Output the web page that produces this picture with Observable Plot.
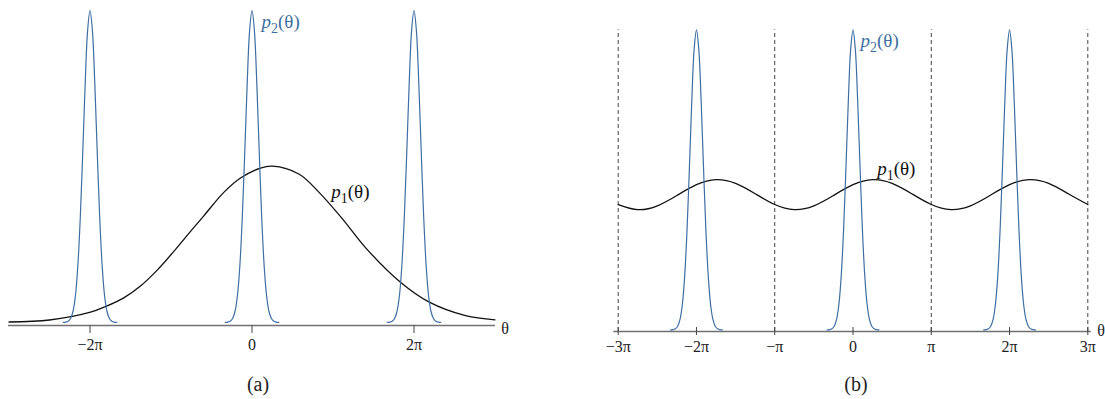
<!DOCTYPE html>
<html><head><meta charset="utf-8">
<script src="https://cdn.jsdelivr.net/npm/d3@7"></script>
<script src="https://cdn.jsdelivr.net/npm/@observablehq/plot@0.6"></script>
<style>
body{margin:0;background:#fff;}
#wrap{position:relative;width:1105px;height:399px;font-family:"Liberation Serif","DejaVu Serif",serif;overflow:hidden;}
.panel{position:absolute;top:0;}
.panel text{font-family:"Liberation Serif","DejaVu Serif",serif;}
.cap{position:absolute;font-size:20px;line-height:20px;color:#222;transform:translateX(-50%);top:374px;}
</style></head><body>
<div id="wrap"></div>
<script>
// ---- data (θ in units of π) ----
const peakCenters = [-2, 0, 2];
const peakOffsets = [-0.33,-0.30,-0.27,-0.24,-0.21,-0.18,-0.15,-0.12,-0.09,-0.06,-0.03,0,0.03,0.06,0.09,0.12,0.15,0.18,0.21,0.24,0.27,0.30,0.33];
const peakValues  = [0.0003,0.0011,0.0040,0.0127,0.0353,0.0858,0.182,0.336,0.541,0.761,0.934,1,0.934,0.761,0.541,0.336,0.182,0.0858,0.0353,0.0127,0.0040,0.0011,0.0003];

const p1aTheta  = [-3.0,-2.5,-1.994,-1.809,-1.583,-1.377,-1.170,-0.965,-0.759,-0.595,-0.348,-0.142,0.105,0.253,0.578,0.825,1.114,1.401,1.833,2.183,2.636,3.0];
const p1aValues = [0.0016,0.008,0.033,0.051,0.079,0.117,0.168,0.228,0.292,0.342,0.417,0.463,0.495,0.501,0.476,0.418,0.333,0.240,0.129,0.066,0.022,0.0087];

const p1bTheta  = [-3,-2.75,-2.5,-2.25,-2,-1.75,-1.5,-1.25,-1,-0.75,-0.5,-0.25,0,0.25,0.5,0.75,1,1.25,1.5,1.75,2,2.25,2.5,2.75,3];
const p1bValues = [0.418,0.401,0.4135,0.448,0.484,0.501,0.4885,0.454,0.418,0.401,0.4135,0.448,0.484,0.501,0.4885,0.454,0.418,0.401,0.4135,0.448,0.484,0.501,0.4885,0.454,0.418];

const ticksA = [-2, 0, 2];
const tickLabelsA = ["−2π", "0", "2π"];
const ticksB = [-3, -2, -1, 0, 1, 2, 3];
const tickLabelsB = ["−3π", "−2π", "−π", "0", "π", "2π", "3π"];
const boundariesB = [-3, -1, 1, 3];

// ---- build tables ----
const p2 = peakCenters.flatMap(c => peakOffsets.map((o, i) => ({t: c + o, v: peakValues[i], c})));
const p1a = p1aTheta.map((t, i) => ({t, v: p1aValues[i]}));
const p1b = p1bTheta.map((t, i) => ({t, v: p1bValues[i]}));

const blue = "#3e6fa3";
const font = "'Liberation Serif', 'DejaVu Serif', serif";

function subscriptify(svg) {
  d3.select(svg).selectAll("text").each(function () {
    const m = /^p(\d)\(θ\)$/.exec(this.textContent);
    if (!m) return;
    const el = d3.select(this);
    el.text(null);
    el.append("tspan").attr("font-style", "italic").text("p");
    el.append("tspan").attr("font-size", "14").attr("dy", "5").text(m[1]);
    el.append("tspan").attr("dy", "-5").text("(θ)");
  });
}

const wrap = document.getElementById("wrap");

// ---- panel (a) ----
const yMinA = -0.0096;
const plotA = Plot.plot({
  width: 530, height: 360,
  marginLeft: 8.5, marginRight: 35.5, marginTop: 10, marginBottom: 35,
  x: {domain: [-3, 3]},
  y: {domain: [yMinA, 1], axis: null},
  style: {fontFamily: font, fontSize: "16px", color: "#222", background: "transparent", overflow: "visible"},
  marks: [
    Plot.ruleY([yMinA], {x1: -3, x2: 3, stroke: "#707070", strokeWidth: 1.7, insetLeft: -0.5, insetRight: -0.5}),
    Plot.axisX({ticks: ticksA, tickFormat: d => tickLabelsA[ticksA.indexOf(d)], tickSize: 8, tickPadding: 5, stroke: "#444", fill: "#222", fontSize: 16, label: null}),
    Plot.line(p1a, {x: "t", y: "v", stroke: "#111", strokeWidth: 1.3, curve: "catmull-rom"}),
    Plot.line(p2, {x: "t", y: "v", z: "c", stroke: blue, strokeWidth: 1.2, curve: "catmull-rom"}),
    Plot.text([{t: 3, v: yMinA, s: "θ"}], {x: "t", y: "v", text: "s", dx: 10, dy: 3, fontSize: 16, fill: "#222"}),
    Plot.text([{t: 0.117, v: 0.962, s: "p2(θ)"}], {x: "t", y: "v", text: "s", textAnchor: "start", fontSize: 19, fill: blue}),
    Plot.text([{t: 0.978, v: 0.42, s: "p1(θ)"}], {x: "t", y: "v", text: "s", textAnchor: "start", fontSize: 19, fill: "#111"})
  ]
});
subscriptify(plotA);
plotA.classList.add("panel");
plotA.style.left = "0px";
wrap.appendChild(plotA);

// ---- panel (b) ----
const yMinB = -0.005;
const plotB = Plot.plot({
  width: 545, height: 360,
  marginLeft: 57.7, marginRight: 17.7, marginTop: 29.3, marginBottom: 29,
  x: {domain: [-3, 3]},
  y: {domain: [yMinB, 1], axis: null},
  style: {fontFamily: font, fontSize: "16px", color: "#222", background: "transparent", overflow: "visible"},
  marks: [
    Plot.ruleX(boundariesB, {x: d => d, y1: yMinB, y2: 1, stroke: "#444", strokeWidth: 1, strokeDasharray: "4,3"}),
    Plot.ruleY([yMinB], {x1: -3, x2: 3, stroke: "#707070", strokeWidth: 1.7, insetLeft: -4.4, insetRight: -3.5}),
    Plot.axisX({ticks: ticksB, tickFormat: d => tickLabelsB[ticksB.indexOf(d)], tickSize: 8, tickPadding: 5, dy: -4, stroke: "#444", fill: "#222", fontSize: 16, label: null}),
    Plot.line(p1b, {x: "t", y: "v", stroke: "#111", strokeWidth: 1.3, curve: "natural"}),
    Plot.line(p2, {x: "t", y: "v", z: "c", stroke: blue, strokeWidth: 1.2, curve: "catmull-rom"}),
    Plot.text([{t: 3, v: yMinB, s: "θ"}], {x: "t", y: "v", text: "s", dx: 13.4, dy: -1, fontSize: 16, fill: "#222"}),
    Plot.text([{t: 0.096, v: 0.964, s: "p2(θ)"}], {x: "t", y: "v", text: "s", textAnchor: "start", fontSize: 19, fill: blue}),
    Plot.text([{t: 0.309, v: 0.535, s: "p1(θ)"}], {x: "t", y: "v", text: "s", textAnchor: "start", fontSize: 19, fill: "#111"})
  ]
});
subscriptify(plotB);
plotB.classList.add("panel");
plotB.style.left = "560px";
wrap.appendChild(plotB);

// ---- captions ----
[["(a)", 258], ["(b)", 856]].forEach(([s, x]) => {
  const d = document.createElement("div");
  d.className = "cap";
  d.style.left = x + "px";
  d.textContent = s;
  wrap.appendChild(d);
});
</script>
</body></html>
